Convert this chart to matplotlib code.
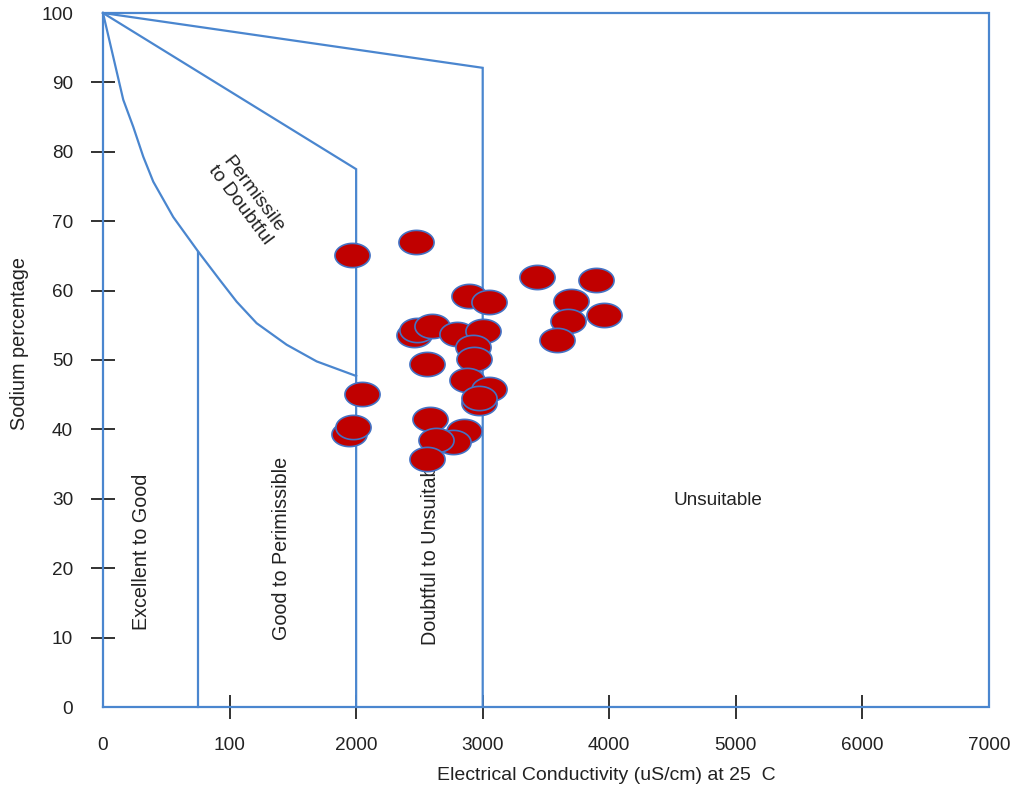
import matplotlib
matplotlib.use("Agg")
import matplotlib.pyplot as plt
import numpy as np
from matplotlib.path import Path

plt.rcParams['font.family'] = ['Liberation Sans', 'DejaVu Sans']

# ---- data ----
ec_values = [1965, 2475, 2892, 3052, 3427, 3893, 3695, 3961, 3676, 3585,
             2460, 2478, 2597, 2794, 3005, 2926, 2931, 2557, 2873, 3052,
             2973, 2973, 2049, 1941, 1978, 2584, 2855, 2768, 2628, 2560]
na_values = [65.2, 67.0, 59.2, 58.3, 61.9, 61.5, 58.5, 56.5, 55.6, 52.9,
             53.6, 54.3, 54.9, 53.8, 54.2, 51.9, 50.2, 49.4, 47.1, 45.8,
             43.8, 44.5, 45.1, 39.4, 40.4, 41.5, 39.7, 38.2, 38.5, 35.7]

# boundary curve between "Excellent to Good"/"Good to Permissible" and "Permissible to Doubtful"
curve_x = [0, 160, 239, 318, 397, 555, 753, 924, 1056, 1214, 1451, 1688, 2000]
curve_y = [100, 87.5, 83.6, 79.3, 75.7, 70.6, 65.6, 61.5, 58.4, 55.3, 52.2, 49.8, 47.7]

# straight boundaries
line_750_top = 65.6
line_2000_top = 77.5
line_3000_top = 92.1

x_ticks = [0, 1000, 2000, 3000, 4000, 5000, 6000, 7000]
x_tick_labels = ['0', '100', '2000', '3000', '4000', '5000', '6000', '7000']
y_ticks = [0, 10, 20, 30, 40, 50, 60, 70, 80, 90, 100]
y_tick_labels = [str(v) for v in y_ticks]

zone_labels = ['Excellent to Good', 'Good to Perimissible', 'Doubtful to Unsuitable',
               'Unsuitable', 'Permissile\nto Doubtful']

# ---- figure ----
fig = plt.figure(figsize=(10.11, 7.89), dpi=100)
ax = fig.add_axes([103/1011, (789-707)/789, 886/1011, 694/789])
ax.set_xlim(0, 7000)
ax.set_ylim(0, 100)
for s in ax.spines.values():
    s.set_visible(False)

lc = '#4a86cf'
lw = 1.6
kw = dict(color=lc, lw=lw, clip_on=False, zorder=2, solid_joinstyle='miter')
# outer box
ax.plot([0, 7000, 7000, 0, 0], [0, 0, 100, 100, 0], **kw)
# fan lines
ax.plot([0, 3000, 3000], [100, line_3000_top, 0], **kw)
ax.plot([0, 2000, 2000], [100, line_2000_top, 0], **kw)
ax.plot(curve_x, curve_y, **kw)
ax.plot([750, 750], [0, line_750_top], **kw)

# ticks
ax.set_xticks(x_ticks)
ax.set_xticklabels(x_tick_labels)
ax.set_yticks(y_ticks)
ax.set_yticklabels(y_tick_labels)
ax.tick_params(axis='both', direction='inout', length=17, width=1.3, color='#222222',
               labelsize=13.7, labelcolor='#222222')
ax.tick_params(axis='x', pad=13)
ax.tick_params(axis='y', pad=13)
for t in (ax.xaxis.get_major_ticks()[0], ax.xaxis.get_major_ticks()[-1],
          ax.yaxis.get_major_ticks()[0], ax.yaxis.get_major_ticks()[-1]):
    t.tick1line.set_visible(False)

ax.set_xlabel('Electrical Conductivity (uS/cm) at 25  C', fontsize=14, color='#222222')
ax.xaxis.set_label_coords((606-103)/886, (707-776)/694)
ax.xaxis.label.set_va('center')
ax.set_ylabel('Sodium percentage', fontsize=14.3, color='#222222')
ax.yaxis.set_label_coords((20-103)/886, (707-344)/694)
ax.yaxis.label.set_va('center')

# zone labels
tk = dict(fontsize=14.2, color='#222222', zorder=1)
ax.text(308, 22.3, zone_labels[0], rotation=90, ha='center', va='center', **tk)
ax.text(1414, 22.9, zone_labels[1], rotation=90, ha='center', va='center', **tk)
ax.text(2584, 8.9, zone_labels[2], rotation=90, ha='center', va='bottom', **tk)
ax.text(4859, 29.7, zone_labels[3], rotation=0, ha='center', va='center',
        fontsize=13.6, color='#222222', zorder=1)
ax.text(1135, 73.1, zone_labels[4], rotation=-53, ha='center', va='center',
        multialignment='center', linespacing=1.0, rotation_mode='anchor',
        fontsize=14, color='#222222', zorder=1)

# points as ellipses
theta = np.linspace(0, 2*np.pi, 60)
ell = Path(np.column_stack([np.cos(theta), 0.69*np.sin(theta)]), closed=True)
ax.scatter(ec_values, na_values, s=640, marker=ell, facecolor='#c00000',
           edgecolor='#4472c4', linewidths=1.2, zorder=3, clip_on=False)

fig.savefig('out.png', dpi=100)
